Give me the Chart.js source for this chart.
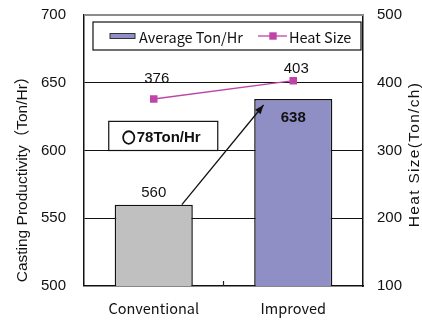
<!DOCTYPE html>
<html>
<head>
<meta charset="utf-8">
<script src="https://cdn.jsdelivr.net/npm/chart.js@4.4.1/dist/chart.umd.min.js"></script>
<style>
  html, body { margin: 0; padding: 0; background: #fff; }
  #wrap { width: 422px; height: 320px; position: relative; }
</style>
</head>
<body>
<div id="wrap"><canvas id="chart" width="422" height="320"></canvas></div>
<script>
// Casting productivity (bars, left axis) and heat size (line, right axis)
const categories = ['Conventional', 'Improved'];
const avgTonPerHr = [560, 638];
const heatSize = [376, 403];
const leftTicks = [500, 550, 600, 650, 700];
const rightTicks = [100, 200, 300, 400, 500];
const gainMark = '○';
const gainText = '78Ton/Hr';
const barLabel = 'Average Ton/Hr';
const lineLabel = 'Heat Size';
const leftTitle = 'Casting Productivity（Ton/Hr）';
const rightTitle = 'Heat Size(Ton/ch)';

const NUM_FONT = '"Liberation Sans", Arial, sans-serif';
const LAT_FONT = '"Liberation Sans", "Noto Sans CJK JP", sans-serif';
const TXT_FONT = '"Noto Sans CJK JP", "Liberation Sans", sans-serif';
const BAR_COLORS = ['#c0c0c0', '#8f8fc6'];
const LINE_COLOR = '#c044a8';

function drawVertical(ctx, text, x, y, font, spacing) {
  ctx.save();
  ctx.translate(x, y);
  ctx.rotate(-Math.PI / 2);
  ctx.font = font;
  if (spacing) ctx.letterSpacing = spacing;
  ctx.textAlign = 'center';
  ctx.textBaseline = 'middle';
  ctx.fillStyle = '#111';
  ctx.fillText(text, 0, 0);
  ctx.restore();
}

// value labels, legend box, arrow, gain box, axis titles and frame details
const overlay = {
  id: 'overlay',
  afterDatasetsDraw(chart) {
    const { ctx, chartArea: a, scales } = chart;
    const y = scales.y;
    const bars = chart.getDatasetMeta(0).data;
    const pts = chart.getDatasetMeta(1).data;
    ctx.save();

    // top frame line
    ctx.strokeStyle = '#8c8c8c';
    ctx.lineWidth = 2;
    ctx.beginPath();
    ctx.moveTo(a.left, a.top);
    ctx.lineTo(a.right, a.top);
    ctx.stroke();

    // small category separator tick on the bottom axis
    const mid = (scales.x.getPixelForValue(0) + scales.x.getPixelForValue(1)) / 2;
    ctx.strokeStyle = '#222';
    ctx.lineWidth = 1.2;
    ctx.beginPath();
    ctx.moveTo(mid, a.bottom);
    ctx.lineTo(mid, a.bottom - 5);
    ctx.stroke();

    // axis titles
    drawVertical(ctx, leftTitle, 23, (a.top + a.bottom) / 2 + 25, '15.5px ' + LAT_FONT);
    drawVertical(ctx, rightTitle, 415, (a.top + a.bottom) / 2 + 4, '15.5px ' + LAT_FONT, '1.3px');

    // bar value labels
    ctx.fillStyle = '#111';
    ctx.textAlign = 'center';
    ctx.textBaseline = 'middle';
    bars.forEach((b, i) => {
      if (i === 0) {
        ctx.font = '15px ' + NUM_FONT;
        ctx.fillText(String(avgTonPerHr[i]), b.x, b.y - 12);
      } else {
        ctx.font = 'bold 15px ' + NUM_FONT;
        ctx.fillText(String(avgTonPerHr[i]), b.x, b.y + 19);
      }
    });

    // heat size labels
    ctx.font = '15px ' + NUM_FONT;
    const lift = [20, 12];
    pts.forEach((p, i) => {
      ctx.fillText(String(heatSize[i]), p.x + 3, p.y - lift[i]);
    });

    // arrow from the conventional bar to the improved bar
    const b0 = bars[0], b1 = bars[1];
    const sx = b0.x + b0.width * 0.36, sy = b0.y;
    const ex = b1.x - b1.width * 0.38, ey = b1.y + 6;
    ctx.strokeStyle = '#111';
    ctx.fillStyle = '#111';
    ctx.lineWidth = 1.3;
    ctx.beginPath();
    ctx.moveTo(sx, sy);
    ctx.lineTo(ex, ey);
    ctx.stroke();
    const ang = Math.atan2(ey - sy, ex - sx);
    const hl = 9, hw = 3.5;
    ctx.beginPath();
    ctx.moveTo(ex, ey);
    ctx.lineTo(ex - hl * Math.cos(ang) + hw * Math.sin(ang), ey - hl * Math.sin(ang) - hw * Math.cos(ang));
    ctx.lineTo(ex - hl * Math.cos(ang) - hw * Math.sin(ang), ey - hl * Math.sin(ang) + hw * Math.cos(ang));
    ctx.closePath();
    ctx.fill();

    // gain box sitting on the 600 grid line
    const gBottom = y.getPixelForValue(600);
    const gTop = y.getPixelForValue(621.5);
    const gLeft = b0.x - 45, gRight = b0.x + 64;
    const gMid = (gTop + gBottom) / 2 + 1;
    ctx.fillStyle = '#fff';
    ctx.fillRect(gLeft, gTop, gRight - gLeft, gBottom - gTop);
    ctx.strokeStyle = '#111';
    ctx.lineWidth = 1.2;
    ctx.strokeRect(gLeft, gTop, gRight - gLeft, gBottom - gTop);
    ctx.fillStyle = '#111';
    ctx.textAlign = 'center';
    ctx.font = '13px ' + TXT_FONT;
    ctx.lineWidth = 1.3;
    ctx.fillText(gainMark, b0.x - 25, gMid);
    ctx.strokeText(gainMark, b0.x - 25, gMid);
    ctx.textAlign = 'left';
    ctx.font = 'bold 15px ' + NUM_FONT;
    ctx.fillText(gainText, b0.x - 17, gMid + 1);

    // legend box
    const lx = a.left + 9, ly = a.top + 7, lw = a.right - a.left - 11, lh = 28;
    ctx.fillStyle = '#fff';
    ctx.fillRect(lx, ly, lw, lh);
    ctx.strokeStyle = '#111';
    ctx.lineWidth = 1.2;
    ctx.strokeRect(lx, ly, lw, lh);
    const cy = ly + lh / 2;
    ctx.fillStyle = BAR_COLORS[1];
    ctx.fillRect(lx + 17, cy - 2.5, 25, 5);
    ctx.strokeStyle = '#333';
    ctx.lineWidth = 1;
    ctx.strokeRect(lx + 17, cy - 2.5, 25, 5);
    ctx.fillStyle = '#111';
    ctx.textAlign = 'left';
    ctx.font = '14.5px ' + TXT_FONT;
    ctx.fillText(barLabel, lx + 46, cy + 1);
    const mx = lx + 165;
    ctx.strokeStyle = LINE_COLOR;
    ctx.lineWidth = 1.3;
    ctx.beginPath();
    ctx.moveTo(mx, cy);
    ctx.lineTo(mx + 29, cy);
    ctx.stroke();
    ctx.fillStyle = LINE_COLOR;
    ctx.fillRect(mx + 15 - 3.7, cy - 3.7, 7.4, 7.4);
    ctx.fillStyle = '#111';
    ctx.fillText(lineLabel, mx + 31, cy + 1);

    ctx.restore();
  }
};

new Chart(document.getElementById('chart'), {
  type: 'bar',
  data: {
    labels: categories,
    datasets: [
      {
        type: 'bar',
        label: barLabel,
        data: avgTonPerHr,
        yAxisID: 'y',
        backgroundColor: BAR_COLORS,
        borderColor: '#111',
        borderWidth: 1.5,
        borderSkipped: 'bottom',
        barPercentage: 0.56,
        categoryPercentage: 1,
        order: 2
      },
      {
        type: 'line',
        label: lineLabel,
        data: heatSize,
        yAxisID: 'y1',
        borderColor: LINE_COLOR,
        backgroundColor: LINE_COLOR,
        borderWidth: 1.3,
        pointStyle: 'rect',
        pointRadius: 5.3,
        pointBorderWidth: 0,
        tension: 0,
        order: 1
      }
    ]
  },
  options: {
    responsive: false,
    animation: false,
    devicePixelRatio: 1,
    layout: { padding: { top: 15, left: 0, right: 0, bottom: 0 } },
    plugins: {
      legend: { display: false },
      tooltip: { enabled: false },
      title: { display: false }
    },
    scales: {
      x: {
        offset: true,
        grid: { display: false },
        border: { display: true, color: '#111', width: 1.5 },
        ticks: {
          color: '#111',
          font: { family: TXT_FONT, size: 14.5 },
          padding: 6,
          maxRotation: 0
        },
        afterFit(s) { s.height = 34; s.paddingLeft = 0; s.paddingRight = 0; }
      },
      y: {
        position: 'left',
        min: 500,
        max: 700,
        afterBuildTicks(s) { s.ticks = leftTicks.map(v => ({ value: v })); },
        grid: {
          drawTicks: false,
          color: c => (c.tick && (c.tick.value === 500 || c.tick.value === 700)) ? 'rgba(0,0,0,0)' : '#111',
          lineWidth: 1.1
        },
        border: { display: true, color: '#111', width: 1.5 },
        ticks: {
          color: '#111',
          font: { family: NUM_FONT, size: 15 },
          padding: 18
        },
        afterFit(s) { s.width = 84; s.paddingTop = 0; s.paddingBottom = 0; }
      },
      y1: {
        position: 'right',
        min: 100,
        max: 500,
        afterBuildTicks(s) { s.ticks = rightTicks.map(v => ({ value: v })); },
        grid: { drawOnChartArea: false, drawTicks: false },
        border: { display: true, color: '#111', width: 1.5 },
        ticks: {
          color: '#111',
          font: { family: NUM_FONT, size: 15 },
          padding: 14
        },
        afterFit(s) { s.width = 59; s.paddingTop = 0; s.paddingBottom = 0; }
      }
    }
  },
  plugins: [overlay]
});
</script>
</body>
</html>
